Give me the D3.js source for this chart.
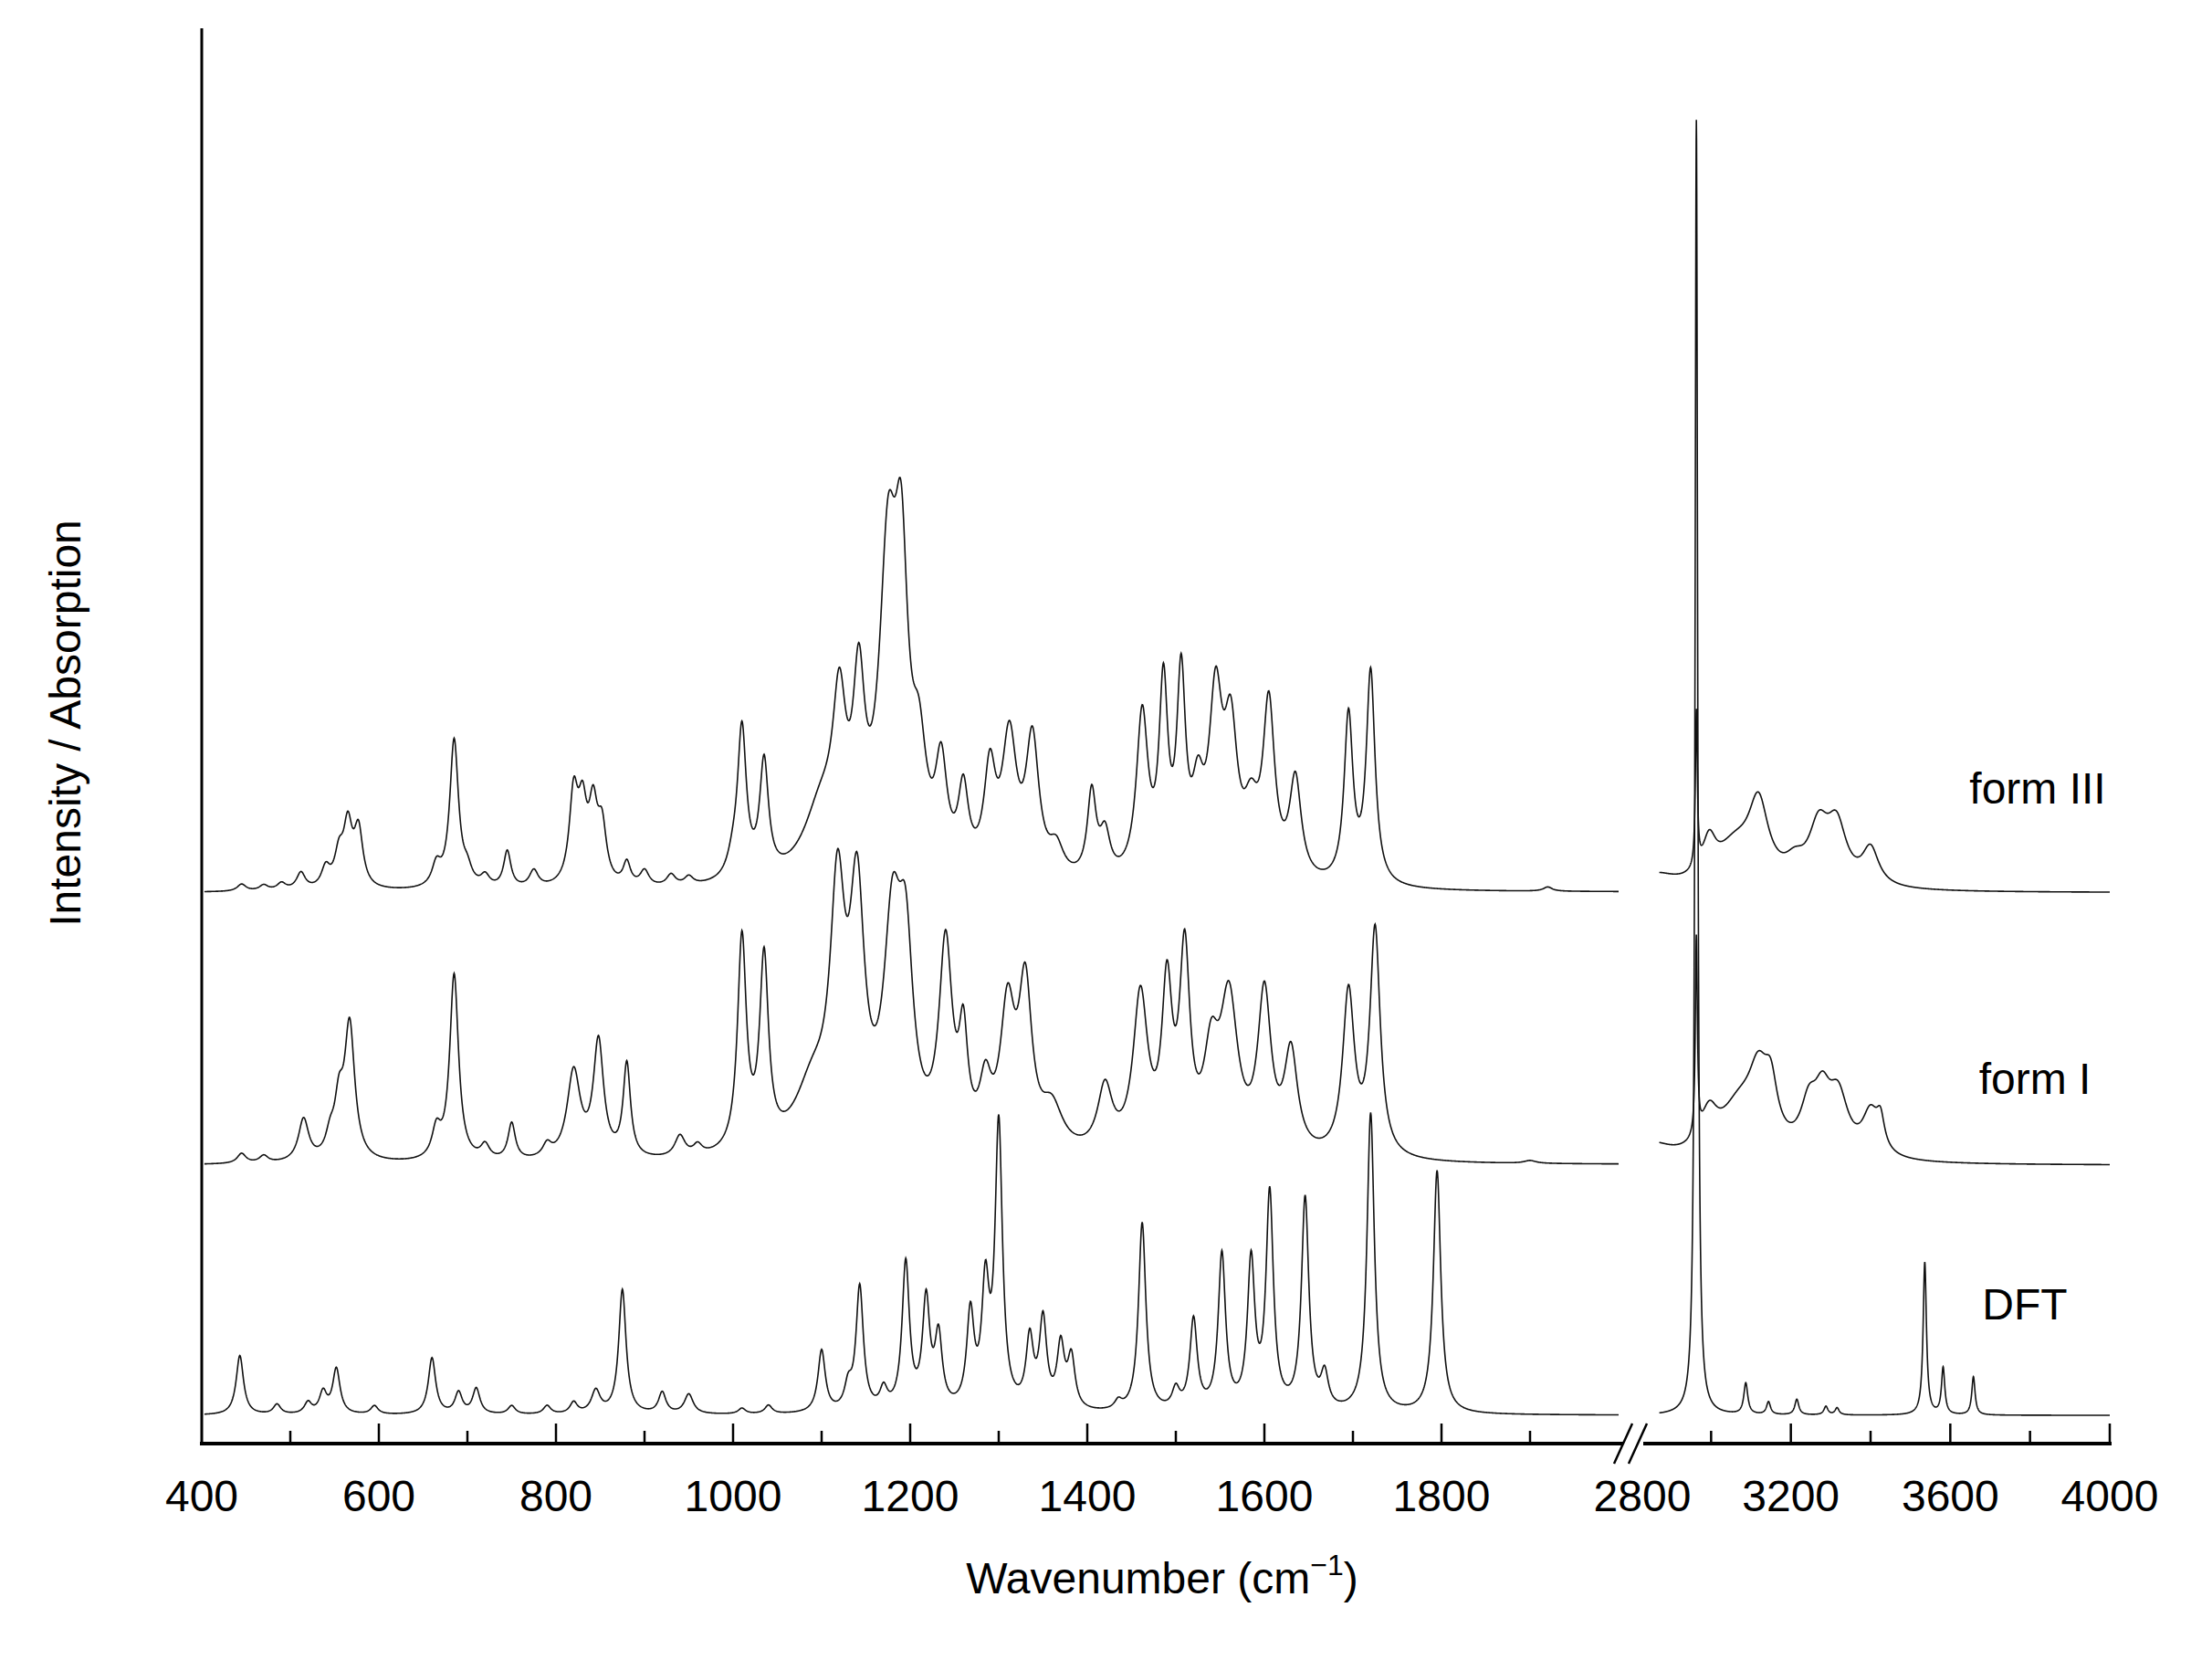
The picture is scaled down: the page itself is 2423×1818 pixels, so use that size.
<!DOCTYPE html>
<html>
<head>
<meta charset="utf-8">
<script src="https://cdn.jsdelivr.net/npm/d3@7"></script>
<style>
  body { margin: 0; background: #fff; }
  text { fill: #000; }
</style>
</head>
<body>
<div id="chart"></div>
<script>
// Peak tables: [wavenumber, height, half-width]
// heights are in arbitrary units above each trace's baseline
var dftPeaks = [
  [443, 42, 5], [485, 7, 5], [520, 8, 5], [537, 15, 5], [552, 32, 5], [595, 6, 5],
  [660, 40, 5], [690, 15, 5], [710, 18, 5], [750, 6, 5], [790, 6, 5], [820, 8, 5],
  [845, 16, 6], [875, 88, 5], [920, 15, 5], [950, 14, 6], [1010, 4, 5], [1040, 6, 5],
  [1100, 44, 5], [1130, 16, 5], [1143, 88, 5], [1170, 14, 5], [1195, 104, 5],
  [1218, 76, 5], [1232, 50, 5], [1268, 66, 5], [1285, 82, 5], [1300, 200, 5],
  [1335, 48, 5], [1350, 62, 5], [1370, 44, 5], [1382, 36, 5], [1435, 6, 5],
  [1462, 134, 5], [1500, 14, 5], [1520, 64, 5], [1552, 110, 5], [1585, 104, 5],
  [1606, 152, 5], [1646, 150, 5], [1668, 24, 5], [1720, 212, 5], [1795, 172, 5],
  [2963, 917, 4], [3087, 22, 6], [3144, 9, 6], [3215, 11, 6], [3288, 6, 6],
  [3316, 5, 6], [3536, 108, 5], [3582, 33, 5], [3658, 27, 5]
];
var form1Peaks = [
  [445, 7, 6], [470, 5, 6], [515, 30, 7], [545, 14, 6], [555, 35, 6], [567, 95, 7],
  [665, 20, 6], [685, 132, 6], [720, 10, 6], [750, 26, 5], [790, 9, 6], [820, 62, 9],
  [848, 82, 7], [880, 66, 5], [940, 15, 7], [960, 7, 6],
  [1010, 150, 6], [1035, 132, 6], [1090, 45, 25], [1118, 165, 10], [1140, 165, 10],
  [1180, 145, 12], [1195, 120, 10], [1240, 140, 9], [1260, 70, 6], [1285, 40, 8],
  [1310, 95, 10], [1330, 110, 9], [1360, 30, 15], [1420, 45, 10], [1460, 110, 10],
  [1490, 110, 7], [1510, 135, 7], [1540, 60, 10], [1560, 105, 12], [1600, 110, 9],
  [1630, 70, 9], [1695, 115, 8], [1725, 160, 7], [1900, 2, 8],
  [2850, 12, 60], [2963, 140, 3], [2995, 25, 25], [3070, 35, 60], [3119, 45, 30],
  [3150, 35, 20], [3245, 30, 25], [3279, 35, 25], [3319, 40, 30], [3400, 30, 25],
  [3425, 20, 12]
];
var form3Peaks = [
  [445, 5, 6], [470, 4, 6], [490, 5, 6], [512, 12, 6], [540, 14, 6], [555, 22, 6],
  [565, 42, 6], [577, 40, 6], [665, 15, 6], [685, 105, 6], [700, 10, 6], [720, 8, 6],
  [745, 26, 5], [775, 12, 6], [820, 62, 6], [830, 48, 6], [842, 50, 6], [852, 38, 6],
  [880, 16, 5], [900, 11, 6], [930, 8, 6], [950, 6, 6],
  [1000, 12, 8], [1010, 105, 6], [1035, 80, 6], [1100, 50, 25], [1120, 100, 9],
  [1142, 115, 8], [1175, 210, 12], [1190, 180, 9], [1210, 70, 10], [1235, 70, 8],
  [1260, 55, 7], [1290, 70, 8], [1312, 95, 10], [1338, 95, 9], [1365, 20, 10],
  [1405, 60, 6], [1420, 30, 7], [1462, 115, 8], [1486, 130, 6], [1506, 135, 6],
  [1525, 50, 8], [1545, 120, 9], [1562, 95, 9], [1585, 40, 10], [1605, 120, 8],
  [1635, 70, 8], [1695, 118, 6], [1720, 150, 6], [1920, 3, 6],
  [2860, 10, 60], [2963, 110, 3], [2995, 25, 20], [3060, 28, 60], [3119, 52, 30],
  [3210, 12, 30], [3270, 38, 30], [3315, 40, 30], [3400, 26, 25]
];
var baselines = { dft: 20, form1: 197, form3: 390 };
var traceLabels = ["form III", "form I", "DFT"];
var leftTicks = [400, 600, 800, 1000, 1200, 1400, 1600, 1800];
var rightTicks = [2800, 3200, 3600, 4000];

var W = 2423, H = 1818;
var svg = d3.select("#chart").append("svg").attr("width", W).attr("height", H);

var xLeft = d3.scaleLinear().domain([400, 1800]).range([221, 1579]);
var xRight = d3.scaleLinear().domain([2800, 4000]).range([1787, 2311]);
var y = d3.scaleLinear().domain([0, 1002]).range([1581, 31]);

function spectrum(peaks, base, from, to) {
  var pts = [];
  for (var w = from; w <= to; w += 0.5) {
    var v = base;
    peaks.forEach(function (p) {
      var d = (w - p[0]) / p[2];
      v += p[1] / (1 + d * d);
    });
    pts.push([w, v]);
  }
  return pts;
}

var lineL = d3.line().x(d => xLeft(d[0])).y(d => y(d[1]));
var lineR = d3.line().x(d => xRight(d[0])).y(d => y(d[1]));

[[dftPeaks, baselines.dft], [form1Peaks, baselines.form1], [form3Peaks, baselines.form3]]
  .forEach(function (s) {
    svg.append("path").attr("d", lineL(spectrum(s[0], s[1], 403, 2000)))
      .attr("fill", "none").attr("stroke", "#111").attr("stroke-width", 1.6);
    svg.append("path").attr("d", lineR(spectrum(s[0], s[1], 2870, 4000)))
      .attr("fill", "none").attr("stroke", "#111").attr("stroke-width", 1.6);
  });

// axes
var axisY = 1581;
svg.append("line").attr("x1", 221).attr("x2", 221).attr("y1", 31).attr("y2", axisY)
  .attr("stroke", "#000").attr("stroke-width", 3);
svg.append("line").attr("x1", 219).attr("x2", 1778).attr("y1", axisY).attr("y2", axisY)
  .attr("stroke", "#000").attr("stroke-width", 4);
svg.append("line").attr("x1", 1800).attr("x2", 2313).attr("y1", axisY).attr("y2", axisY)
  .attr("stroke", "#000").attr("stroke-width", 4);

d3.range(500, 2000, 100).forEach(function (t) {
  var major = t % 200 === 0;
  svg.append("line").attr("x1", xLeft(t)).attr("x2", xLeft(t))
    .attr("y1", axisY).attr("y2", axisY - (major ? 22 : 14))
    .attr("stroke", "#000").attr("stroke-width", 2.5);
});
d3.range(3000, 4001, 200).forEach(function (t) {
  var major = t % 400 === 0;
  svg.append("line").attr("x1", xRight(t)).attr("x2", xRight(t))
    .attr("y1", axisY).attr("y2", axisY - (major ? 22 : 14))
    .attr("stroke", "#000").attr("stroke-width", 2.5);
});

// break marks
[1776, 1792].forEach(function (bx) {
  svg.append("line").attr("x1", bx - 8).attr("x2", bx + 12)
    .attr("y1", axisY + 22).attr("y2", axisY - 22)
    .attr("stroke", "#000").attr("stroke-width", 2.5);
});

var tickFont = "'Liberation Sans Narrow', 'Liberation Sans', Arial, sans-serif";
leftTicks.forEach(function (t) {
  svg.append("text").attr("x", xLeft(t)).attr("y", 1655).attr("text-anchor", "middle")
    .attr("font-family", tickFont).attr("font-size", 48).text(t);
});
rightTicks.forEach(function (t) {
  var xx = t === 2800 ? 1799 : xRight(t);
  svg.append("text").attr("x", xx).attr("y", 1655).attr("text-anchor", "middle")
    .attr("font-family", tickFont).attr("font-size", 48).text(t);
});

var xt = svg.append("text").attr("x", 1273).attr("y", 1745).attr("text-anchor", "middle")
  .attr("font-family", tickFont).attr("font-size", 48);
xt.append("tspan").text("Wavenumber (cm");
xt.append("tspan").attr("dy", -20).attr("font-size", 32).text("\u22121");
xt.append("tspan").attr("dy", 20).text(")");

svg.append("text").attr("transform", "translate(88, 792) rotate(-90)")
  .attr("text-anchor", "middle").attr("font-family", "'Liberation Sans', Arial, sans-serif")
  .attr("font-size", 48).text("Intensity / Absorption");

var labelPos = [[2232, 880], [2229, 1198], [2218, 1445]];
traceLabels.forEach(function (l, i) {
  svg.append("text").attr("x", labelPos[i][0]).attr("y", labelPos[i][1])
    .attr("text-anchor", "middle").attr("font-family", "'Liberation Sans', Arial, sans-serif")
    .attr("font-size", 48).text(l);
});
</script>
</body>
</html>
